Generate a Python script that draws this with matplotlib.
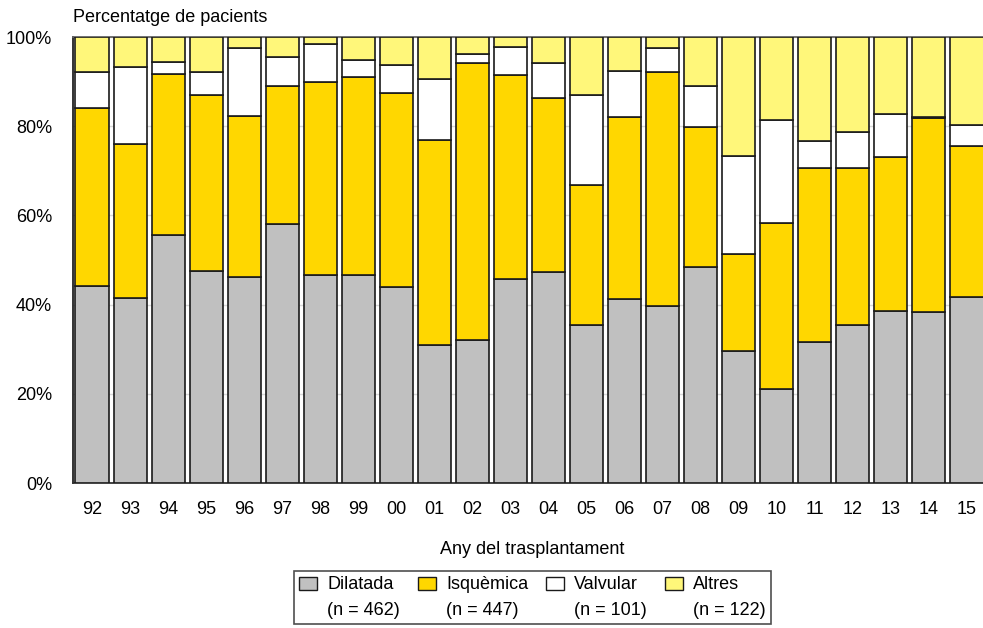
import matplotlib
matplotlib.use("Agg")
import matplotlib.pyplot as plt
from matplotlib.patches import Patch
import numpy as np

plt.rcParams['font.family'] = ['Liberation Sans', 'DejaVu Sans']

years = ["92", "93", "94", "95", "96", "97", "98", "99", "00", "01", "02", "03",
         "04", "05", "06", "07", "08", "09", "10", "11", "12", "13", "14", "15"]
# cumulative boundaries (%)
dilatada = [44.2, 41.5, 55.7, 47.5, 46.3, 58.0, 46.7, 46.6, 44.0, 30.9, 32.1, 45.8,
            47.2, 35.4, 41.2, 39.7, 48.4, 29.5, 21.1, 31.6, 35.5, 38.6, 38.3, 41.6]
isq_top = [84.1, 76.0, 91.7, 86.9, 82.2, 89.0, 89.8, 91.1, 87.5, 77.0, 94.1, 91.4,
           86.3, 66.8, 82.1, 92.2, 79.8, 51.4, 58.3, 70.7, 70.7, 73.2, 81.9, 75.5]
valv_top = [92.2, 93.2, 94.5, 92.2, 97.5, 95.6, 98.4, 94.8, 93.8, 90.5, 96.2, 97.8,
            94.2, 87.1, 92.3, 97.5, 89.0, 73.4, 81.5, 76.6, 78.6, 82.8, 82.1, 80.2]

isquemica = [b - a for a, b in zip(dilatada, isq_top)]
valvular = [b - a for a, b in zip(isq_top, valv_top)]
altres = [100 - v for v in valv_top]

series_names = ["Dilatada", "Isquèmica", "Valvular", "Altres"]
series_n = ["(n = 462)", "(n = 447)", "(n = 101)", "(n = 122)"]
colors = ["#C0C0C0", "#FFD700", "#FFFFFF", "#FFF77A"]

FS = 13
W, H = 983, 628
fig = plt.figure(figsize=(W / 100, H / 100), dpi=100)
ax = fig.add_axes([73 / W, (H - 483) / H, (986 - 73) / W, (483 - 37) / H])

x = np.arange(len(years))
bottom = np.zeros(len(years))
for vals, col in zip([dilatada, isquemica, valvular, altres], colors):
    ax.bar(x, vals, bottom=bottom, width=0.87, color=col, edgecolor="#1a1a1a",
           linewidth=1.2, zorder=3)
    bottom += np.array(vals)

ax.set_xlim(-0.5, len(years) - 0.5)
ax.set_ylim(0, 100)
ax.set_yticks([0, 20, 40, 60, 80, 100])
ax.set_yticklabels([f"{v}%" for v in [0, 20, 40, 60, 80, 100]])
ax.set_xticks(x)
ax.set_xticklabels(years)
ax.tick_params(axis="both", length=0, labelsize=FS)
ax.tick_params(axis="y", pad=15)
ax.tick_params(axis="x", pad=13)
ax.yaxis.grid(True, color="#d9d9d9", linewidth=1, zorder=0)
ax.set_axisbelow(True)
ax.spines["right"].set_visible(False)
ax.spines["top"].set_color("#666666")
ax.spines["left"].set_color("#222222")
ax.spines["bottom"].set_color("#333333")
for s in ["top", "left", "bottom"]:
    ax.spines[s].set_linewidth(1.3)

fig.text(73 / W, 1 - 18 / H, "Percentatge de pacients", ha="left", va="center",
         fontsize=FS)
fig.text(532 / W, 1 - 549 / H, "Any del trasplantament", ha="center", va="center",
         fontsize=FS)

handles, labels = [], []
for name, n, col in zip(series_names, series_n, colors):
    handles.append(Patch(facecolor=col, edgecolor="#1a1a1a", linewidth=1.0))
    labels.append(name)
    handles.append(Patch(facecolor="none", edgecolor="none"))
    labels.append(n)

leg = fig.legend(handles, labels, ncol=4, loc="center",
                 bbox_to_anchor=(532.5 / W, 1 - 597.5 / H), fontsize=FS,
                 frameon=True, fancybox=False, edgecolor="#222222",
                 handlelength=1.0, handleheight=0.75, handletextpad=0.55,
                 columnspacing=1.0, labelspacing=0.45, borderpad=0.3)
leg.get_frame().set_linewidth(1.2)

fig.savefig("out.png", dpi=100)
